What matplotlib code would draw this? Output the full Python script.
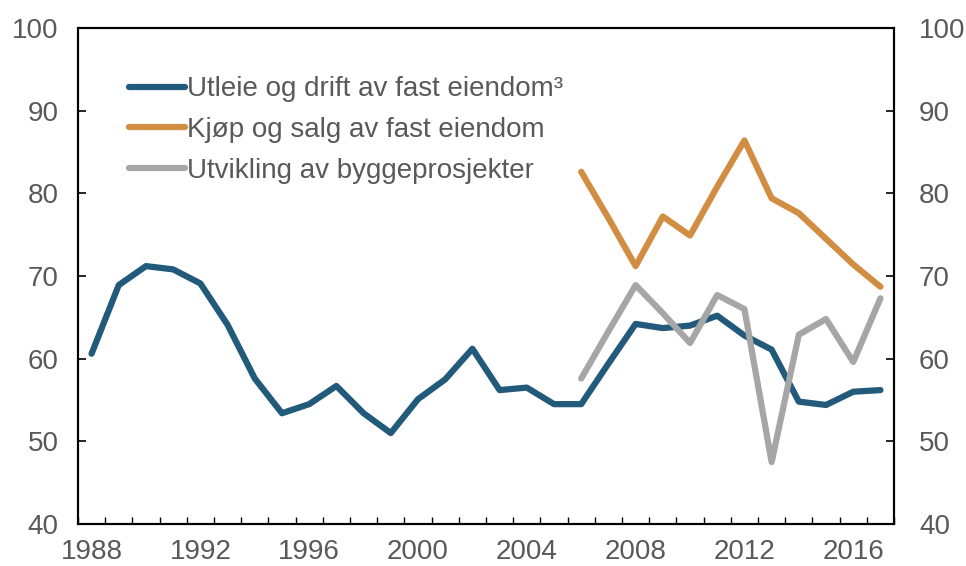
import matplotlib
matplotlib.use("Agg")
import matplotlib.pyplot as plt
from matplotlib.ticker import FixedLocator

plt.rcParams['font.family'] = ['Liberation Sans', 'DejaVu Sans']

# data
years_utleie = list(range(1988, 2018))
utleie = [60.6, 68.9, 71.2, 70.8, 69.1, 64.1, 57.6, 53.4, 54.5, 56.7,
          53.4, 51.0, 55.1, 57.5, 61.2, 56.2, 56.5, 54.5, 54.5, 59.4,
          64.2, 63.7, 64.0, 65.2, 62.8, 61.1, 54.8, 54.4, 56.0, 56.2]

years_new = list(range(2006, 2018))
kjop = [82.6, 77.0, 71.2, 77.2, 74.9, 80.8, 86.4, 79.4, 77.6, 74.5, 71.4, 68.7]
utvikling = [57.6, 63.3, 68.9, 65.5, 61.9, 67.7, 66.0, 47.5, 62.9, 64.8, 59.6, 67.3]

labels = ["Utleie og drift av fast eiendom³",
          "Kjøp og salg av fast eiendom",
          "Utvikling av byggeprosjekter"]
colors = ["#215a7b", "#d18d42", "#a6a6a6"]
xticks = list(range(1988, 2017, 4))
yticks = list(range(40, 101, 10))

text_color = "#595959"
fs = 20

fig = plt.figure(figsize=(9.66, 5.66), dpi=100)
ax = fig.add_axes([0.0807, 0.0742, 0.8448, 0.8763])

style = dict(lw=4.5, solid_capstyle='round', solid_joinstyle='round')
ax.plot(years_utleie, utleie, color=colors[0], label=labels[0], **style)
ax.plot(years_new, kjop, color=colors[1], label=labels[1], **style)
ax.plot(years_new, utvikling, color=colors[2], label=labels[2], **style)

ax.set_xlim(1987.5, 2017.5)
ax.set_ylim(40, 100)
ax.set_yticks(yticks)
ax.set_xticks(xticks)
ax.xaxis.set_minor_locator(FixedLocator([y + 0.5 for y in range(1987, 2018)]))
ax.tick_params(axis='x', which='major', length=0, pad=11, labelsize=fs,
               labelcolor=text_color)
ax.tick_params(axis='x', which='minor', direction='in', length=5, width=1)
ax.tick_params(axis='y', direction='in', length=5.5, width=1.2, pad=14,
               labelsize=fs, labelcolor=text_color)

for s in ax.spines.values():
    s.set_color("black")
    s.set_linewidth(1.5)

ax2 = ax.twinx()
ax2.set_ylim(40, 100)
ax2.set_yticks(yticks)
ax2.tick_params(axis='y', direction='in', length=5.5, width=1.2, pad=18,
                labelsize=fs, labelcolor=text_color)
for s in ax2.spines.values():
    s.set_color("black")
    s.set_linewidth(1.5)

leg = ax.legend(loc='upper left', bbox_to_anchor=(0.049, 0.925), frameon=False,
                fontsize=fs, handlelength=2.0, handletextpad=0.1,
                labelspacing=0.53, borderaxespad=0)
for t in leg.get_texts():
    t.set_color(text_color)

fig.savefig("out.png", dpi=100)
